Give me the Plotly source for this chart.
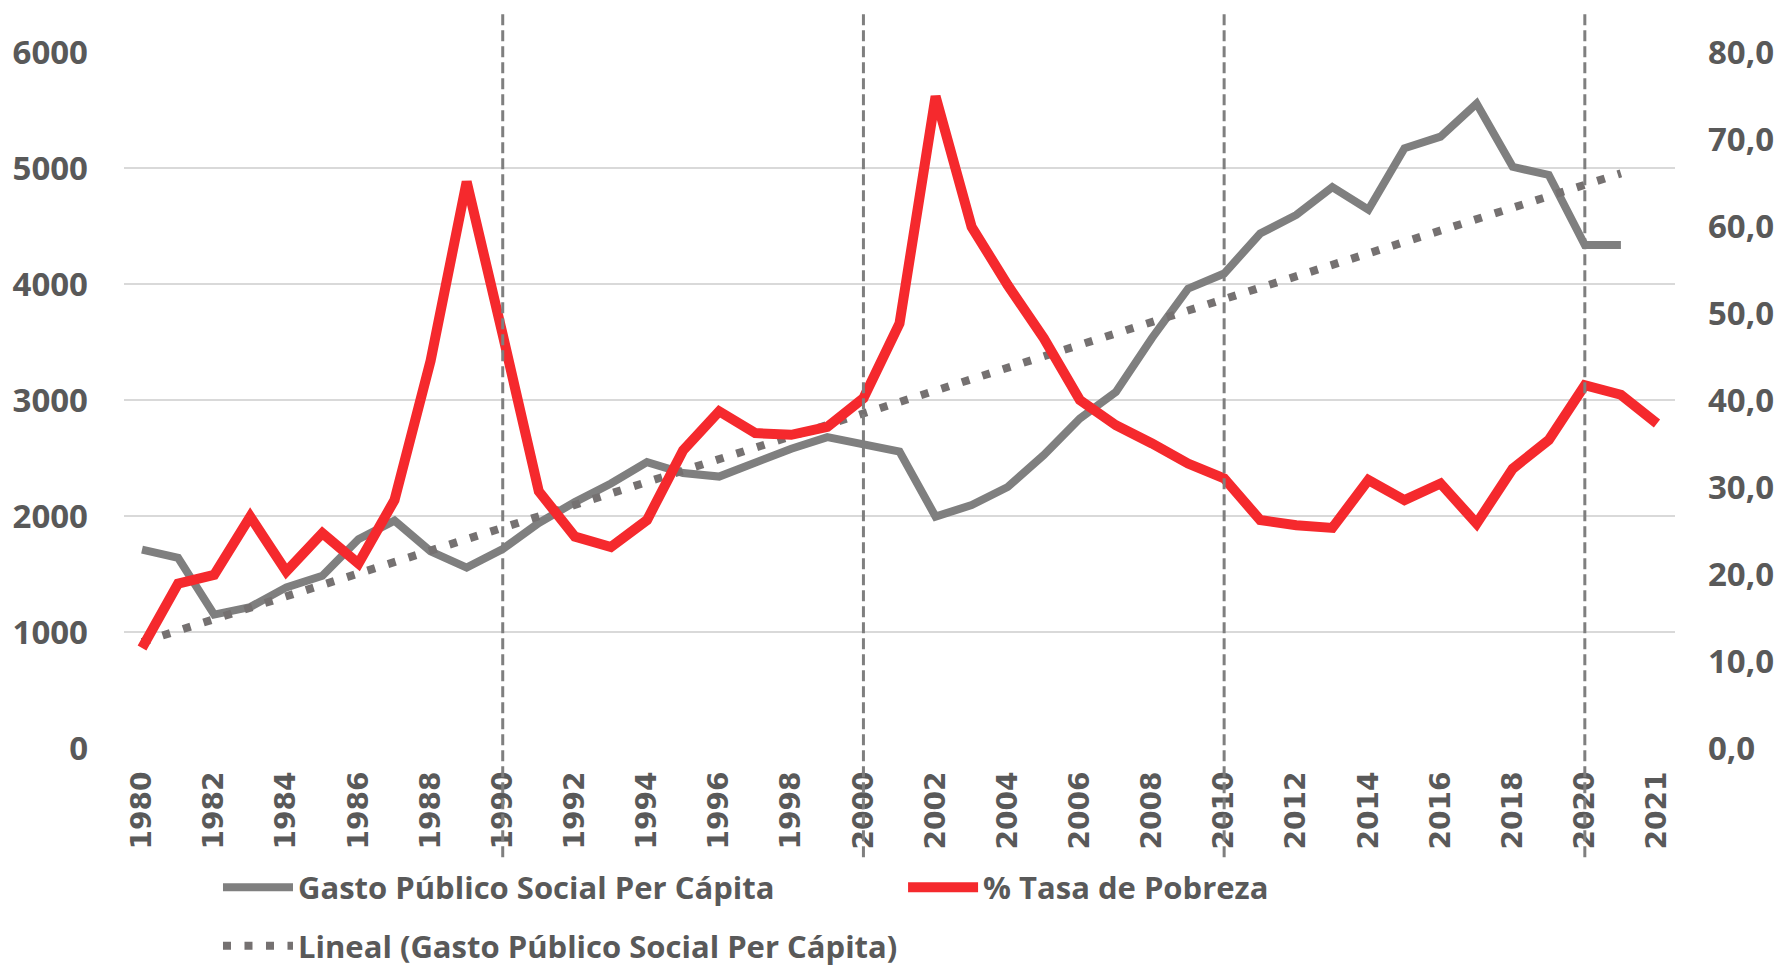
import numpy as np
import plotly.graph_objects as go

# ---- data ----
tick_labels = ["1980", "1982", "1984", "1986", "1988", "1990", "1992", "1994", "1996",
               "1998", "2000", "2002", "2004", "2006", "2008", "2010", "2012", "2014",
               "2016", "2018", "2020", "2021"]
tick_positions = list(range(0, 41, 2)) + [42]      # period index of each labelled tick

gasto_per_capita = [1710, 1640, 1150, 1215, 1385, 1485, 1800, 1960, 1695, 1555,
                    1715, 1940, 2120, 2280, 2465, 2370, 2340, 2468, 2580, 2680,
                    2620, 2555, 1995, 2095, 2250, 2525, 2840, 3070, 3535, 3960,
                    4090, 4435, 4595, 4835, 4640, 5170, 5270, 5555, 5010, 4940,
                    4336, 4336]

tasa_pobreza = [11.5, 18.9, 19.9, 26.6, 20.3, 24.7, 21.2, 28.5, 44.5, 65.1,
                47.5, 29.5, 24.3, 23.1, 26.2, 34.2, 38.7, 36.2, 36.0, 36.9,
                40.2, 48.8, 74.9, 59.9, 53.2, 47.1, 40.0, 37.1, 35.0, 32.7,
                31.0, 26.2, 25.6, 25.3, 30.8, 28.5, 30.4, 25.8, 32.1, 35.4,
                41.7, 40.6, 37.3]

decade_marks = [10, 20, 30, 40]   # 1990, 2000, 2010, 2020

x_gasto = list(range(len(gasto_per_capita)))
x_pobreza = list(range(len(tasa_pobreza)))

# Excel-style linear trend line of the spending series
coef = np.polyfit(x_gasto, gasto_per_capita, 1)
trend = list(np.polyval(coef, x_gasto))

GRAY = "#7F7F7F"
RED = "#F5292D"
DOT = "#757171"
TXT = "#595959"

fig = go.Figure()
fig.add_trace(go.Scatter(x=x_gasto, y=gasto_per_capita, mode="lines",
                         name="Gasto Público Social Per Cápita",
                         line=dict(color=GRAY, width=8), legend="legend"))
fig.add_trace(go.Scatter(x=x_pobreza, y=tasa_pobreza, mode="lines",
                         name="% Tasa de Pobreza", yaxis="y2",
                         line=dict(color=RED, width=10), legend="legend2"))
fig.add_trace(go.Scatter(x=x_gasto, y=trend, mode="lines",
                         name="Lineal (Gasto Público Social Per Cápita)",
                         line=dict(color=DOT, width=8, dash="8px,13.5px"), legend="legend3"))

for xm in decade_marks:
    fig.add_shape(type="line", xref="x", yref="paper", x0=xm, x1=xm, y0=-0.157, y1=1.056,
                  line=dict(color=GRAY, width=3, dash="11px,5px"), layer="above")

tickfont = dict(family="Open Sans", size=33, color=TXT, weight="bold")
legfont = dict(family="Open Sans", size=31, color=TXT, weight="bold")

# the page body adds an 8px offset, so the figure is 16px smaller than the window
fig.update_layout(
    width=1775, height=959,
    margin=dict(l=116, r=108, t=44, b=219, autoexpand=False),
    paper_bgcolor="white", plot_bgcolor="white",
    separators=",.",
    xaxis=dict(range=[-0.5, 42.5], tickmode="array", tickvals=tick_positions,
               ticktext=tick_labels, tickangle=-90, showgrid=False, zeroline=False,
               showline=False, ticks="", ticklabelstandoff=17, automargin=False,
               tickfont=dict(family="DejaVu Sans", size=28, color=TXT, weight="bold")),
    yaxis=dict(range=[0, 6000], tickvals=[0, 1000, 2000, 3000, 4000, 5000, 6000],
               showgrid=True, gridcolor="#D9D9D9", gridwidth=1.5, zeroline=False,
               showline=False, ticks="", ticklabelstandoff=35, automargin=False,
               tickfont=tickfont),
    yaxis2=dict(range=[0, 80], tickvals=[0, 10, 20, 30, 40, 50, 60, 70, 80],
                tickformat=".1f", overlaying="y", side="right", showgrid=False,
                zeroline=False, showline=False, ticks="", ticklabelstandoff=32,
                automargin=False, tickfont=tickfont),
    legend=dict(x=0.0606, y=-0.2005, xanchor="left", yanchor="middle", itemwidth=70,
                orientation="h", font=legfont, bgcolor="rgba(0,0,0,0)"),
    legend2=dict(x=0.5023, y=-0.2005, xanchor="left", yanchor="middle", itemwidth=70,
                 orientation="h", font=legfont, bgcolor="rgba(0,0,0,0)"),
    legend3=dict(x=0.0606, y=-0.2845, xanchor="left", yanchor="middle", itemwidth=70,
                 orientation="h", font=legfont, bgcolor="rgba(0,0,0,0)"),
    showlegend=True,
)

fig.write_html("out.html")
